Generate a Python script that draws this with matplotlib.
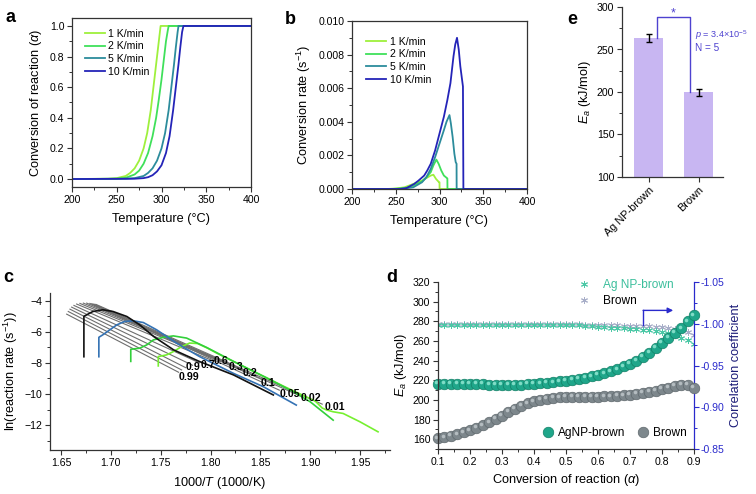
import matplotlib
matplotlib.use("Agg")
import matplotlib.pyplot as plt
from matplotlib.ticker import MultipleLocator
from matplotlib.transforms import ScaledTranslation
import numpy as np

plt.rcParams['font.family'] = ['Liberation Sans', 'DejaVu Sans']
plt.rcParams['mathtext.fontset'] = 'custom'
plt.rcParams['mathtext.rm'] = 'Liberation Sans'
plt.rcParams['mathtext.it'] = 'Liberation Sans:italic'

# ---------------- data ----------------
rates = ['1 K/min', '2 K/min', '5 K/min', '10 K/min']
rate_colors = ['#9ef03c', '#3fe05a', '#2c8c9c', '#2424b8']

# panel a: conversion vs temperature
Ta1 = [200, 240, 250, 260, 265, 270, 275, 280, 284, 288, 291, 294, 296, 298, 299, 400]
aa1 = [0, 0.002, 0.006, 0.02, 0.04, 0.07, 0.12, 0.2, 0.3, 0.45, 0.6, 0.75, 0.85, 0.95, 1.0, 1.0]
Ta2 = [200, 250, 260, 270, 275, 280, 285, 290, 294, 297, 300, 303, 305, 307, 308, 400]
aa2 = [0, 0.002, 0.008, 0.03, 0.055, 0.1, 0.17, 0.28, 0.4, 0.52, 0.65, 0.8, 0.9, 0.97, 1.0, 1.0]
Ta5 = [200, 260, 270, 280, 285, 290, 295, 300, 304, 308, 311, 314, 316, 318, 319, 400]
aa5 = [0, 0.002, 0.006, 0.02, 0.04, 0.07, 0.12, 0.2, 0.3, 0.45, 0.6, 0.75, 0.86, 0.96, 1.0, 1.0]
Ta10 = [200, 270, 280, 285, 290, 295, 300, 305, 309, 313, 316, 319, 321, 323, 324.5, 400]
aa10 = [0, 0.002, 0.006, 0.012, 0.025, 0.05, 0.09, 0.17, 0.28, 0.45, 0.6, 0.75, 0.86, 0.96, 1.0, 1.0]

# panel b: conversion rate vs temperature
Tb1 = [200, 240, 250, 260, 270, 280, 285, 290, 293, 296, 299.5, 300, 300.1, 400]
rb1 = [0, 0, 0.00003, 0.0001, 0.0003, 0.0005, 0.00065, 0.0008, 0.00085, 0.0006, 0.0004, 0.0004, 0, 0]
Tb2 = [200, 245, 255, 265, 270, 280, 285, 290, 293, 296.4, 299, 302, 305, 308.5, 309, 309.1, 400]
rb2 = [0, 0, 0.00003, 0.0001, 0.0002, 0.00045, 0.0007, 0.001, 0.0014, 0.00175, 0.0015, 0.0011, 0.0008, 0.00065, 0.00063, 0, 0]
Tb5 = [200, 250, 260, 270, 280, 285, 290, 295, 300, 305, 308, 311.4, 313, 315, 317, 318.5, 319.5, 319.6, 400]
rb5 = [0, 0, 0.00003, 0.0001, 0.0004, 0.0007, 0.0012, 0.0019, 0.0027, 0.0035, 0.004, 0.0044, 0.0039, 0.0031, 0.0021, 0.0016, 0.0015, 0, 0]
Tb10 = [200, 255, 262, 271, 276, 282.5, 286, 290, 295, 300, 305, 309, 312.5, 316, 318, 320, 322, 323.8, 326.8, 327.3, 400]
rb10 = [0, 0, 0.00005, 0.0003, 0.0005, 0.0008, 0.0011, 0.0015, 0.0023, 0.0033, 0.0043, 0.0053, 0.0063, 0.0079, 0.0086, 0.0090, 0.0083, 0.0073, 0.0061, 0, 0]

# panel c: Friedman plot, ln(rate) vs 1000/T for each heating rate
c_colors = ['#76f030', '#32d03a', '#3472b4', '#111111']
xc1 = [1.7476, 1.7476, 1.756, 1.7627, 1.771, 1.779, 1.787, 1.797, 1.806, 1.823, 1.840, 1.856, 1.875,
       1.890, 1.905, 1.912, 1.9166, 1.923, 1.933, 1.950, 1.968]
yc1 = [-8.19, -7.59, -7.48, -7.27, -6.95, -6.72, -6.75, -7.05, -7.36, -7.9, -8.45, -8.95, -9.55,
       -10.0, -10.45, -10.9, -11.03, -11.14, -11.25, -11.79, -12.43]
xc2 = [1.720, 1.720, 1.729, 1.736, 1.7426, 1.7526, 1.7627, 1.776, 1.796, 1.823, 1.856, 1.883, 1.900, 1.923]
yc2 = [-7.9, -7.12, -7.05, -6.84, -6.52, -6.35, -6.26, -6.4, -7.0, -7.9, -8.95, -9.85, -10.5, -11.68]
xc5 = [1.688, 1.688, 1.692, 1.699, 1.706, 1.714, 1.7225, 1.7326, 1.746, 1.766, 1.789, 1.823, 1.853, 1.886]
yc5 = [-7.6, -6.35, -6.19, -5.87, -5.55, -5.33, -5.29, -5.40, -5.87, -6.73, -7.59, -8.67, -9.53, -10.71]
xc10 = [1.673, 1.673, 1.682, 1.692, 1.7022, 1.716, 1.729, 1.743, 1.763, 1.789, 1.823, 1.863]
yc10 = [-7.6, -5.0, -4.69, -4.58, -4.69, -5.01, -5.55, -6.30, -7.16, -7.91, -8.77, -10.06]

# iso-conversional fit lines
iso_alpha = ['0.99', '', '0.9', '', '0.7', '0.6', '', '0.3', '0.2', '0.1', '0.05', '0.02', '0.01']
iso_x0 = [1.6557, 1.6573, 1.659, 1.6607, 1.663, 1.6657, 1.669, 1.6724, 1.6758, 1.679, 1.681, 1.683, 1.685]
iso_y0 = [-4.86, -4.69, -4.54, -4.41, -4.30, -4.21, -4.17, -4.15, -4.15, -4.17, -4.19, -4.21, -4.23]
iso_x1 = [1.768, 1.771, 1.775, 1.782, 1.789, 1.802, 1.810, 1.818, 1.833, 1.851, 1.869, 1.889, 1.912]
iso_y1 = [-8.6, -8.45, -8.3, -8.15, -8.0, -7.85, -7.9, -8.05, -8.45, -9.05, -9.75, -10.1, -10.65]
lab_x = [1.778, 0, 1.7825, 0, 1.797, 1.811, 0, 1.825, 1.8396, 1.858, 1.880, 1.9006, 1.925]
lab_y = [-8.88, 0, -8.24, 0, -8.13, -7.87, 0, -8.24, -8.67, -9.27, -10.0, -10.28, -10.84]

# panel d: activation energy and correlation coefficient vs conversion
alpha_d = [round(0.10 + 0.02 * i, 2) for i in range(41)]
Ea_ag = [216, 216.5, 216.5, 216, 216, 216, 216, 216, 215.5, 215, 215, 215, 215, 215.5, 216, 216.5,
         217, 217.5, 218, 219, 219.5, 220.5, 221.5, 222.5, 224, 225.5, 227, 229, 231, 234, 237,
         240, 244, 248, 253, 258, 263, 268, 273, 280, 286]
Ea_br = [161, 162, 163.5, 165, 167, 169, 171.5, 174, 177, 180.5, 184, 187.5, 191, 194, 196.5, 198.5,
         200, 201, 202, 202.5, 203, 203, 203, 203, 203, 203, 203.5, 203.5, 204, 204.5, 205,
         206, 207, 208, 209.5, 211, 212.5, 214, 215.5, 215.5, 212]
R_ag = [-0.999] * 21 + [-0.9985, -0.998, -0.9975, -0.997, -0.9965, -0.996, -0.9955, -0.995, -0.9945,
                        -0.994, -0.9935, -0.993, -0.992, -0.991, -0.9905, -0.989, -0.987, -0.983, -0.981, -0.976]
R_br = [-0.9995] * 21 + [-0.9993, -0.9992, -0.999, -0.999, -0.9988, -0.9985, -0.998, -0.998, -0.9978,
                         -0.9975, -0.9972, -0.997, -0.9968, -0.9965, -0.996, -0.9945, -0.9935, -0.992, -0.990, -0.987]

# panel e: mean activation energy
e_labels = ['Ag NP-brown', 'Brown']
e_values = [263, 199.5]
e_errors = [4.7, 4.5]

# ---------------- figure ----------------
W, H = 756, 494
fig = plt.figure(figsize=(W / 100, H / 100), dpi=100)


def add_ax(l, t, r, b):
    return fig.add_axes([l / W, 1 - b / H, (r - l) / W, (b - t) / H])


SP = '#333333'
TICK_FS = 7.6
LAB_FS = 9.2


def style(ax, box=False):
    for s in ax.spines.values():
        s.set_color(SP)
        s.set_linewidth(0.9)
    if not box:
        ax.spines['top'].set_visible(False)
        ax.spines['right'].set_visible(False)
    ax.tick_params(which='both', direction='out', colors=SP, labelcolor='black',
                   labelsize=TICK_FS, top=False, right=False)
    ax.tick_params(which='major', length=3.5, width=0.8, pad=2)
    ax.tick_params(which='minor', length=2, width=0.7)


# ---- panel a ----
axa = add_ax(72, 18, 251, 187)
for T, a, col, lab in zip([Ta1, Ta2, Ta5, Ta10], [aa1, aa2, aa5, aa10], rate_colors, rates):
    axa.plot(T, a, color=col, lw=1.3, label=lab)
axa.set_xlim(200, 400)
axa.set_ylim(-0.052, 1.052)
axa.xaxis.set_major_locator(MultipleLocator(50))
axa.xaxis.set_minor_locator(MultipleLocator(25))
axa.yaxis.set_minor_locator(MultipleLocator(0.1))
axa.set_yticks([0, 0.2, 0.4, 0.6, 0.8, 1.0])
axa.set_yticklabels(['0.0', '0.2', '0.4', '0.6', '0.8', '1.0'])
style(axa, box=True)
axa.set_xlabel('Temperature (°C)', fontsize=LAB_FS, labelpad=6)
axa.set_ylabel(r'Conversion of reaction ($\alpha$)', fontsize=LAB_FS, labelpad=4)
axa.legend(loc='upper left', bbox_to_anchor=(0.03, 0.98), frameon=False, fontsize=7.6,
           handlelength=1.9, handletextpad=0.3, labelspacing=0.25, borderpad=0.2)

# ---- panel b ----
axb = add_ax(352, 21, 527, 189)
for T, r, col, lab in zip([Tb1, Tb2, Tb5, Tb10], [rb1, rb2, rb5, rb10], rate_colors, rates):
    axb.plot(T, r, color=col, lw=1.3, label=lab)
axb.set_xlim(200, 400)
axb.set_ylim(0, 0.010)
axb.xaxis.set_major_locator(MultipleLocator(50))
axb.xaxis.set_minor_locator(MultipleLocator(25))
axb.yaxis.set_minor_locator(MultipleLocator(0.001))
axb.set_yticks([0, 0.002, 0.004, 0.006, 0.008, 0.010])
axb.set_yticklabels(['0.000', '0.002', '0.004', '0.006', '0.008', '0.010'])
style(axb, box=True)
axb.set_xlabel('Temperature (°C)', fontsize=LAB_FS, labelpad=6)
axb.set_ylabel(r'Conversion rate (s$^{-1}$)', fontsize=LAB_FS, labelpad=4)
axb.legend(loc='upper left', bbox_to_anchor=(0.04, 0.95), frameon=False, fontsize=7.6,
           handlelength=1.9, handletextpad=0.3, labelspacing=0.25, borderpad=0.2)

# ---- panel c ----
axc = add_ax(50, 293, 390, 450)
for x0, y0, x1, y1 in zip(iso_x0, iso_y0, iso_x1, iso_y1):
    axc.plot([x0, x1], [y0, y1], color='#6e6e6e', lw=0.8)
for xs, ys, col in zip([xc1, xc2, xc5, xc10], [yc1, yc2, yc5, yc10], c_colors):
    axc.plot(xs, ys, color=col, lw=1.2)
for lab, lx, ly in zip(iso_alpha, lab_x, lab_y):
    if lab:
        axc.text(lx, ly, lab, fontsize=7.6, fontweight='bold', ha='center', va='center')
axc.set_xlim(1.639, 1.980)
axc.set_ylim(-13.6, -3.5)
axc.set_xticks([1.65, 1.70, 1.75, 1.80, 1.85, 1.90, 1.95])
axc.set_xticklabels(['1.65', '1.70', '1.75', '1.80', '1.85', '1.90', '1.95'])
axc.xaxis.set_minor_locator(MultipleLocator(0.025))
axc.set_yticks([-4, -6, -8, -10, -12])
axc.yaxis.set_minor_locator(MultipleLocator(1))
style(axc)
axc.set_xlabel(r'1000/$T$ (1000/K)', fontsize=LAB_FS, labelpad=5)
axc.set_ylabel(r'ln(reaction rate (s$^{-1}$))', fontsize=LAB_FS, labelpad=3)

# ---- panel d ----
TEAL = '#1fa68a'
GREY = '#7d878c'
axd = add_ax(438, 282, 694, 449)
axr = axd.twinx()
axr.plot(alpha_d, R_br, ls='none', marker=(6, 2, 0), ms=5, mew=0.7, color='#a8aec8', zorder=2)
axr.plot(alpha_d, R_ag, ls='none', marker=(6, 2, 0), ms=5, mew=0.7, color='#4cc8a6', zorder=2)
axr.set_ylim(-0.85, -1.05)
axd.set_zorder(axr.get_zorder() + 1)
axd.patch.set_visible(False)
hl = axd.transData + ScaledTranslation(-1.2 / 72, 1.2 / 72, fig.dpi_scale_trans)
for ys, col, ec, hc in [(Ea_br, GREY, '#5f686d', '#b4bcc0'), (Ea_ag, TEAL, '#138067', '#7fdcc6')]:
    axd.plot(alpha_d, ys, ls='none', marker='o', ms=7.6, color=col, mec=ec, mew=0.5, clip_on=False)
    axd.plot(alpha_d, ys, ls='none', marker='o', ms=2.6, color=hc, mew=0, clip_on=False,
             transform=hl)
axd.set_xlim(0.1, 0.9)
axd.set_ylim(150, 320)
axd.xaxis.set_minor_locator(MultipleLocator(0.05))
axd.set_xticks([0.1, 0.2, 0.3, 0.4, 0.5, 0.6, 0.7, 0.8, 0.9])
axd.set_xticklabels(['0.1', '0.2', '0.3', '0.4', '0.5', '0.6', '0.7', '0.8', '0.9'])
axd.yaxis.set_minor_locator(MultipleLocator(10))
axd.set_yticks([160, 180, 200, 220, 240, 260, 280, 300, 320])
style(axd)
axd.spines['right'].set_visible(False)
for s in ['top', 'left', 'bottom']:
    axr.spines[s].set_visible(False)
BLUE = '#2a2acc'
axr.spines['right'].set_color(BLUE)
axr.spines['right'].set_linewidth(0.9)
axr.set_yticks([-1.05, -1.00, -0.95, -0.90, -0.85])
axr.set_yticklabels(['-1.05', '-1.00', '-0.95', '-0.90', '-0.85'])
axr.yaxis.set_minor_locator(MultipleLocator(0.025))
axr.tick_params(which='both', direction='out', colors=BLUE, labelsize=TICK_FS)
axr.tick_params(which='major', length=3.5, width=0.8, pad=1.5)
axr.tick_params(which='minor', length=2, width=0.7)
axr.set_ylabel('Correlation coefficient', fontsize=LAB_FS, color='#1c1c78', labelpad=4)
axd.set_xlabel(r'Conversion of reaction ($\alpha$)', fontsize=LAB_FS, labelpad=4)
axd.set_ylabel(r'$E_a$ (kJ/mol)', fontsize=LAB_FS, labelpad=3)
h_ag, = axd.plot([], [], ls='none', marker='o', ms=7.6, color=TEAL, mec='#138067', mew=0.5)
h_br, = axd.plot([], [], ls='none', marker='o', ms=7.6, color=GREY, mec='#5f686d', mew=0.5)
axd.legend([h_ag, h_br], ['AgNP-brown', 'Brown'], loc='lower right', bbox_to_anchor=(1.01, 0.0),
           ncol=2, frameon=False, fontsize=8.6, handletextpad=0.3, columnspacing=0.8,
           handlelength=1.2, borderpad=0.3)
x_ag, = axd.plot([], [], ls='none', marker=(6, 2, 0), ms=5, mew=0.7, color='#4cc8a6')
x_br, = axd.plot([], [], ls='none', marker=(6, 2, 0), ms=5, mew=0.7, color='#a8aec8')
lg2 = axr.legend([x_ag, x_br], ['Ag NP-brown', 'Brown'], loc='upper right',
                 bbox_to_anchor=(0.95, 1.06), frameon=False, fontsize=8.6,
                 handletextpad=0.6, labelspacing=0.35, borderpad=0.1)
lg2.get_texts()[0].set_color('#3cbf9c')
# arrow pointing to right axis
axr.plot([0.742, 0.742], [-0.999, -1.016], color=BLUE, lw=1.0)
axr.annotate('', xy=(0.835, -1.016), xytext=(0.741, -1.016),
             arrowprops=dict(arrowstyle='-|>', color=BLUE, lw=1.0, mutation_scale=8,
                             shrinkA=0, shrinkB=0))

# ---- panel e ----
axe = add_ax(622, 7, 723, 177)
xpos = np.arange(len(e_labels))
axe.bar(xpos, [v - 100 for v in e_values], bottom=100, width=0.57, color='#c8b6f2', zorder=1)
axe.errorbar(xpos, e_values, yerr=e_errors, fmt='none', ecolor='black', elinewidth=1.0,
             capsize=2.5, capthick=1.0, zorder=3)
PUR = '#4e42d0'
axe.plot([0.16, 0.16, 0.82, 0.82], [e_values[0], 288.6, 288.6, e_values[1]], color=PUR, lw=1.0)
axe.text(0.49, 292, '*', color=PUR, fontsize=9, ha='center', va='center')
axe.text(0.93, 267, r'$p$ = 3.4×10$^{-5}$', color=PUR, fontsize=6.6, ha='left', va='center')
axe.text(0.93, 251.5, 'N = 5', color=PUR, fontsize=7.2, ha='left', va='center')
axe.set_xlim(-0.53, 1.49)
axe.set_ylim(100, 300)
axe.set_xticks(xpos)
axe.set_xticklabels(e_labels, rotation=45, ha='right', rotation_mode='anchor')
axe.yaxis.set_major_locator(MultipleLocator(50))
axe.yaxis.set_minor_locator(MultipleLocator(25))
style(axe)
axe.tick_params(axis='x', labelsize=7.8)
axe.set_ylabel(r'$E_a$ (kJ/mol)', fontsize=LAB_FS, labelpad=3)

# panel letters
for txt, px, py in [('a', 10, 18), ('b', 290, 19), ('e', 572, 20), ('c', 8, 278), ('d', 392, 278)]:
    fig.text(px / W, 1 - py / H, txt, fontsize=13, fontweight='bold', ha='center', va='center')

fig.savefig('out.png', dpi=100)
